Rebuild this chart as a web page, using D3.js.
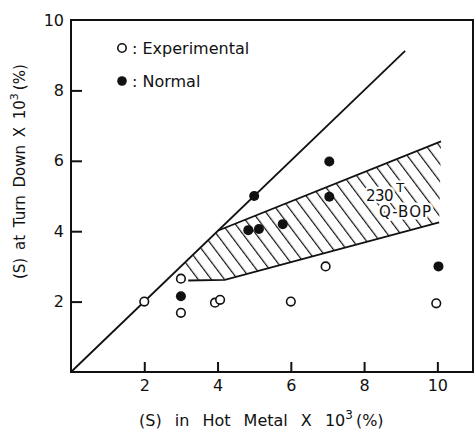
<!DOCTYPE html>
<html>
<head>
<meta charset="utf-8">
<script src="https://cdn.jsdelivr.net/npm/d3@7"></script>
<style>
  body { margin: 0; background: #fff; }
  text { font-family: "DejaVu Sans", sans-serif; fill: #111; }
</style>
</head>
<body>
<svg id="chart" width="475" height="430"></svg>
<script>
// values, units of 10^-3 %
var experimental = [[2, 2], [3, 2.65], [3, 1.68], [3.93, 1.97], [4.07, 2.05], [6, 2], [6.95, 3], [9.97, 1.95]];
var normal = [[3, 2.15], [5, 5], [4.84, 4.03], [5.13, 4.06], [5.78, 4.2], [7.05, 5.98], [7.05, 4.98], [10.03, 3]];
var diagonal = [[0, 0], [9.12, 9.12]];
var bandUpper = [[3.1, 3.1], [4.02, 4.02], [10.1, 6.55]];
var bandLower = [[3.2, 2.6], [4.2, 2.62], [10.05, 4.25]];
var xTicks = [2, 4, 6, 8, 10];
var yTicks = [2, 4, 6, 8, 10];

var svg = d3.select('#chart');

var x = d3.scaleLinear().domain([0, 11]).range([71, 474]);
var y = d3.scaleLinear().domain([0, 10]).range([372, 20]);

var line = d3.line().x(function(d) { return x(d[0]); }).y(function(d) { return y(d[1]); });

// hatch pattern for the 230T Q-BOP band
var pat = svg.append('defs').append('pattern')
	.attr('id', 'hatch')
	.attr('patternUnits', 'userSpaceOnUse')
	.attr('width', 10.5).attr('height', 20)
	.attr('patternTransform', 'rotate(-37)');
pat.append('line')
	.attr('x1', 0).attr('y1', 0).attr('x2', 0).attr('y2', 20)
	.attr('stroke', '#111').attr('stroke-width', 2.4);

svg.append('path')
	.attr('d', line(bandUpper.concat(bandLower.slice().reverse())) + 'Z')
	.attr('fill', 'url(#hatch)');

[bandUpper.slice(1), bandLower].forEach(function(pts) {
	svg.append('path')
		.attr('d', line(pts))
		.attr('fill', 'none').attr('stroke', '#111').attr('stroke-width', 1.8);
});

svg.append('path')
	.attr('d', line(diagonal))
	.attr('fill', 'none').attr('stroke', '#111').attr('stroke-width', 1.8);

// band label, white halo cuts the hatching
var lab = svg.append('g')
	.style('paint-order', 'stroke')
	.attr('stroke', '#fff').attr('stroke-width', 5).attr('stroke-linejoin', 'round');
lab.append('text').attr('x', 366).attr('y', 201).style('font-size', '15px').style('letter-spacing', '-0.5px').text('230')
	.append('tspan').attr('dx', 3).attr('dy', -9).style('font-size', '13px').text('T');
lab.append('text').attr('x', 379).attr('y', 217).style('font-size', '15px').style('letter-spacing', '1px').text('Q-BOP');

// axes with inward ticks
var xAxis = svg.append('g')
	.attr('transform', 'translate(0,' + y(0) + ')')
	.call(d3.axisBottom(x).tickValues(xTicks).tickSizeInner(-10).tickSizeOuter(0).tickPadding(8));
var yAxis = svg.append('g')
	.attr('transform', 'translate(' + x(0) + ',0)')
	.call(d3.axisLeft(y).tickValues(yTicks).tickSizeInner(-11).tickSizeOuter(0).tickPadding(7));

[xAxis, yAxis].forEach(function(g) {
	g.select('.domain').remove();
	g.selectAll('.tick line').attr('stroke', '#111').attr('stroke-width', 2);
	g.selectAll('.tick text')
		.style('font-family', '"DejaVu Sans", sans-serif')
		.style('font-size', '16px').attr('fill', '#111');
});
yAxis.selectAll('.tick').filter(function(d) { return d === 10; }).select('line').remove();

svg.append('rect')
	.attr('x', x(0)).attr('y', y(10))
	.attr('width', x(11) - x(0) - 1).attr('height', y(0) - y(10))
	.attr('fill', 'none').attr('stroke', '#111').attr('stroke-width', 2);

// points
svg.selectAll('circle.exp').data(experimental).enter().append('circle')
	.attr('class', 'exp')
	.attr('cx', function(d) { return x(d[0]); })
	.attr('cy', function(d) { return y(d[1]); })
	.attr('r', 4.3)
	.attr('fill', '#fff').attr('stroke', '#111').attr('stroke-width', 1.6);

svg.selectAll('circle.norm').data(normal).enter().append('circle')
	.attr('class', 'norm')
	.attr('cx', function(d) { return x(d[0]); })
	.attr('cy', function(d) { return y(d[1]); })
	.attr('r', 5)
	.attr('fill', '#111');

// legend
svg.append('circle').attr('cx', 122).attr('cy', 48).attr('r', 4.2)
	.attr('fill', '#fff').attr('stroke', '#111').attr('stroke-width', 1.6);
svg.append('text').attr('x', 132).attr('y', 54).style('font-size', '16px').text(': Experimental');
svg.append('circle').attr('cx', 122).attr('cy', 81).attr('r', 4.8).attr('fill', '#111');
svg.append('text').attr('x', 132).attr('y', 87).style('font-size', '16px').text(': Normal');

// axis titles
var xt = svg.append('text').attr('x', 139).attr('y', 426)
	.style('font-size', '16px').style('word-spacing', '8px');
xt.append('tspan').text('(S)  in Hot Metal X 10');
xt.append('tspan').attr('dy', -7).style('font-size', '12px').text('3');
xt.append('tspan').attr('dy', 7).attr('dx', 3).text('(%)');

var yt = svg.append('text')
	.attr('transform', 'translate(25,279) rotate(-90)')
	.style('font-size', '15px').style('word-spacing', '3px');
yt.append('tspan').text('(S) at Turn Down X 10');
yt.append('tspan').attr('dy', -7).style('font-size', '11px').text('3');
yt.append('tspan').attr('dy', 7).attr('dx', 3).text('(%)');
</script>
</body>
</html>
